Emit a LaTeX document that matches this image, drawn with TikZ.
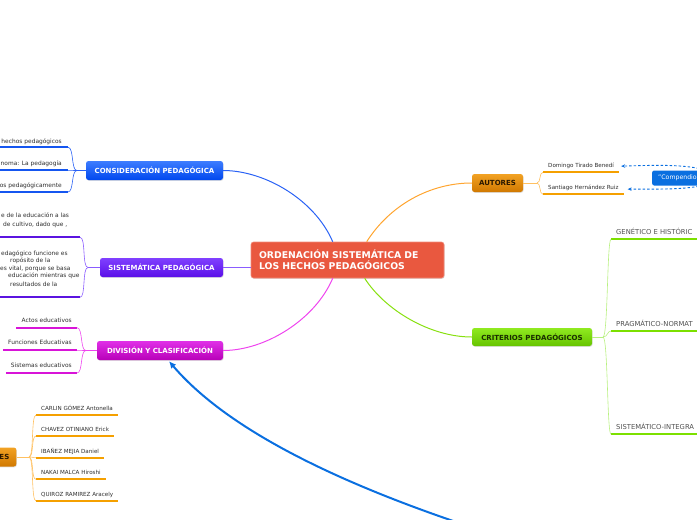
\documentclass[tikz,border=0pt]{standalone}
\usepackage{fontspec}
\setmainfont{DejaVu Sans}
\usetikzlibrary{arrows.meta,calc,shadows}
\definecolor{mainRed}{HTML}{E9583F}
\definecolor{consTop}{HTML}{3D7DFF}
\definecolor{consBot}{HTML}{0047EE}
\definecolor{consLine}{HTML}{2A62F5}
\definecolor{consUL}{HTML}{1556F0}
\definecolor{sistTop}{HTML}{8040FF}
\definecolor{sistBot}{HTML}{5A0FE8}
\definecolor{sistLine}{HTML}{8A5CFF}
\definecolor{sistUL}{HTML}{5B14E0}
\definecolor{divTop}{HTML}{E030E8}
\definecolor{divBot}{HTML}{B800B8}
\definecolor{divLine}{HTML}{EE44EE}
\definecolor{divUL}{HTML}{D814D8}
\definecolor{autTop}{HTML}{F2A224}
\definecolor{autBot}{HTML}{D07800}
\definecolor{autTxt}{HTML}{2A1800}
\definecolor{autLine}{HTML}{FFA530}
\definecolor{autUL}{HTML}{F5A000}
\definecolor{autThin}{HTML}{FFC060}
\definecolor{critTop}{HTML}{90EA20}
\definecolor{critBot}{HTML}{66C400}
\definecolor{critTxt}{HTML}{1A2E00}
\definecolor{critLine}{HTML}{88E010}
\definecolor{critUL}{HTML}{7CE000}
\definecolor{critThin}{HTML}{B8F080}
\definecolor{compBlue}{HTML}{0A6FE0}
\definecolor{txt}{HTML}{2E2E2E}
\definecolor{txtGray}{HTML}{505050}
\begin{document}
\begin{tikzpicture}[x=1pt,y=-1pt,
  box/.style={rounded corners=2.5pt, inner sep=0pt, font=\bfseries\fontsize{7}{8}\selectfont,
    drop shadow={opacity=0.25,shadow xshift=0.6pt,shadow yshift=-0.8pt}},
  lbl/.style={font=\fontsize{5.6}{7}\selectfont, text=txt, inner sep=0pt},
  llbl/.style={font=\fontsize{5.9}{7}\selectfont, text=txt, inner sep=0pt},
  clbl/.style={font=\fontsize{6.8}{7}\selectfont, text=txtGray, inner sep=0pt},
  uline/.style={line width=1.8pt},
  twig/.style={line width=0.6pt},
  limb/.style={line width=1pt},
]
\useasboundingbox (0,0) rectangle (697,520);
\clip (0,0) rectangle (697,520);

% central node
\node[box, fill=mainRed, text=white, font=\bfseries\fontsize{9.3}{11}\selectfont,
  text width=177pt, align=left, inner xsep=8pt, minimum height=36pt,
  draw=mainRed!70!white, line width=0.6pt] (main) at (347.5,260)
  {ORDENACIÓN SISTEMÁTICA DE\\LOS HECHOS PEDAGÓGICOS};

% main branches
\node[box, top color=consTop, bottom color=consBot, text=white, minimum width=137pt, minimum height=19pt] (cons) at (154.5,170.5) {CONSIDERACIÓN PEDAGÓGICA};
\node[box, top color=sistTop, bottom color=sistBot, text=white, minimum width=123pt, minimum height=19pt] (sist) at (161.5,267.5) {SISTEMÁTICA PEDAGÓGICA};
\node[box, top color=divTop, bottom color=divBot, text=white, minimum width=126pt, minimum height=19pt] (div) at (160,350.5) {DIVISIÓN Y CLASIFICACIÓN};
\node[box, top color=autTop, bottom color=autBot, text=autTxt, minimum width=51pt, minimum height=18pt] (aut) at (497.5,183) {AUTORES};
\node[box, top color=critTop, bottom color=critBot, text=critTxt, minimum width=120pt, minimum height=18pt] (crit) at (532,337) {CRITERIOS PEDAGÓGICOS};
\node[box, top color=autTop, bottom color=autBot, text=autTxt, minimum height=19pt, text width=30pt, align=right, inner xsep=7pt, anchor=east] (est) at (16.5,457) {ES};
\node[fill=compBlue, rounded corners=2pt, text=white, font=\fontsize{6.2}{7}\selectfont, anchor=west, minimum height=15pt, text width=60pt, align=left, inner xsep=6pt] (comp) at (652,178) {"Compendio};

% limbs from the centre
\draw[limb, consLine] ($(main.north west)+(82,0)$) .. controls (315,200) and (265,170.5) .. (cons.east);
\draw[limb, sistLine] (sist.east) -- (main.west |- sist.east);
\draw[limb, divLine] ($(main.south west)+(82,0)$) .. controls (315,320) and (265,350.5) .. (div.east);
\draw[limb, autLine] ($(main.north west)+(116,0)$) .. controls (390,205) and (430,183) .. (aut.west);
\draw[limb, critLine] ($(main.south west)+(114,0)$) .. controls (385,310) and (430,337) .. (crit.west);

% big blue arrow
\coordinate (arrowStart) at (468,526);
\draw[line width=2pt, compBlue, -{Latex[length=7pt,width=6.5pt]}] (arrowStart) .. controls (300,470) and (215,415) .. ($(div.south)+(9,1)$);

% CONSIDERACION items
\coordinate (cj) at (77,170.5);
\draw[twig, consLine] (cons.west) -- (cj);
\coordinate (cs1) at (0,147.3); \coordinate (ce1) at (68,147.3);
\coordinate (cs2) at (0,170.3); \coordinate (ce2) at (68,170.3);
\coordinate (cs3) at (0,192);   \coordinate (ce3) at (68,192);
\foreach \i in {1,2,3}{
  \draw[uline, consUL] (cs\i) -- (ce\i);
  \draw[twig, consLine] (cj) .. controls +(-6,0) and +(6,0) .. (ce\i);
}
\node[llbl, anchor=base east] (ct1) at (62,143) {hechos pedagógicos};
\node[llbl, anchor=base east] (ct2) at (62,165.8) {noma: La pedagogía};
\node[llbl, anchor=base east] (ct3) at (62,187.5) {os pedagógicamente};

% SISTEMATICA items
\coordinate (sj) at (88,267.5);
\draw[twig, sistLine] (sist.west) -- (sj);
\coordinate (ss1) at (0,237.3); \coordinate (se1) at (80,237.3);
\coordinate (ss2) at (0,297.3); \coordinate (se2) at (80,297.3);
\foreach \i in {1,2}{
  \draw[uline, sistUL] (ss\i) -- (se\i);
  \draw[twig, sistLine] (sj) .. controls +(-6,0) and +(6,0) .. (se\i);
}
\node[llbl, anchor=base west] (st1a) at (1,217) {e de la educación a las};
\node[llbl, anchor=base west] (st1b) at (3,226) {de cultivo, dado que ,};
\node[llbl, anchor=base west] (st2a) at (1,255.3) {edagógico funcione es};
\node[llbl, anchor=base west] (st2b) at (10,262.7) {ropósito de la};
\node[llbl, anchor=base west] (st2c) at (0,270) {es vital, porque se basa};
\node[llbl, anchor=base west] (st2d) at (8,277.7) {educación mientras que};
\node[llbl, anchor=base west] (st2e) at (10,286) {resultados de la};

% DIVISION items
\coordinate (dj) at (86,350.5);
\draw[twig, divLine] (div.west) -- (dj);
\coordinate (de1) at (77,327.7);
\coordinate (de2) at (77,350.3);
\coordinate (de3) at (77,373);
\node[llbl, anchor=base east] (dt1) at (72,322.2) {Actos educativos};
\node[llbl, anchor=base east] (dt2) at (72,344.8) {Funciones Educativas};
\node[llbl, anchor=base east] (dt3) at (72,367.5) {Sistemas educativos};
\foreach \i in {1,2,3}{
  \draw[uline, divUL] ($(dt\i.base west)+(-5,5.5)$) -- (de\i);
  \draw[twig, divLine] (dj) .. controls +(-6,0) and +(6,0) .. (de\i);
}

% students
\coordinate (pj) at (29,457);
\draw[twig, autThin] (est.east) -- (pj);
\coordinate (ps1) at (36,415);
\coordinate (ps2) at (36,436);
\coordinate (ps3) at (36,457.7);
\coordinate (ps4) at (36,479.3);
\coordinate (ps5) at (36,501);
\node[lbl, anchor=base west] (pt1) at (41,410.5) {CARLIN GÓMEZ Antonella};
\node[lbl, anchor=base west] (pt2) at (41,431.5) {CHAVEZ OTINIANO Erick};
\node[lbl, anchor=base west] (pt3) at (41,453.2) {IBAÑEZ MEJIA Daniel};
\node[lbl, anchor=base west] (pt4) at (41,474.8) {NAKAI MALCA Hiroshi};
\node[lbl, anchor=base west] (pt5) at (41,496.5) {QUIROZ RAMIREZ Aracely};
\foreach \i in {1,...,5}{
  \draw[uline, autUL] (ps\i) -- ($(pt\i.base east)+(5,4.5)$);
  \draw[twig, autThin] (pj) .. controls +(5,0) and +(-5,0) .. (ps\i);
}

% AUTORES items
\coordinate (aj) at (537,183);
\draw[twig, autThin] (aut.east) -- (aj);
\coordinate (as1) at (543,172.3);
\coordinate (as2) at (543,194.3);
\node[lbl, anchor=base west] (at1) at (548,167.8) {Domingo Tirado Benedí};
\node[lbl, anchor=base west] (at2) at (548,189.8) {Santiago Hernández Ruiz};
\foreach \i in {1,2}{
  \draw[uline, autUL] (as\i) -- ($(at\i.base east)+(5,4.5)$);
  \draw[twig, autThin] (aj) .. controls +(4,0) and +(-4,0) .. (as\i);
}

% dashed links from the Compendio
\coordinate (dsA) at (712,172);
\coordinate (dsB) at (712,183);
\draw[compBlue, line width=0.9pt, dash pattern=on 2.5pt off 2pt, -{Stealth[length=4pt,width=3.5pt]}]
  (dsA) .. controls (690,164) and (660,165) .. ($(at1.east)+(7,0)$);
\draw[compBlue, line width=0.9pt, dash pattern=on 2.5pt off 2pt, -{Stealth[length=4pt,width=3.5pt]}]
  (dsB) .. controls (690,190) and (665,189) .. ($(at2.east)+(9,1)$);

% CRITERIOS items
\coordinate (kj) at (603,337);
\draw[twig, critThin] (crit.east) -- (kj);
\coordinate (ks1) at (611,239.3); \coordinate (kx1) at (700,239.3);
\coordinate (ks2) at (611,331);   \coordinate (kx2) at (700,331);
\coordinate (ks3) at (611,434.3); \coordinate (kx3) at (700,434.3);
\foreach \i in {1,2,3}{
  \draw[uline, critUL] (ks\i) -- (kx\i);
  \draw[twig, critThin] (kj) .. controls +(5,0) and +(-4,0) .. (ks\i);
}
\node[clbl, anchor=base west] (kt1) at (616,234.8) {GENÉTICO E HISTÓRIC};
\node[clbl, anchor=base west] (kt2) at (616,326.5) {PRAGMÁTICO-NORMAT};
\node[clbl, anchor=base west] (kt3) at (616,429.8) {SISTEMÁTICO-INTEGRA};
\end{tikzpicture}
\end{document}
